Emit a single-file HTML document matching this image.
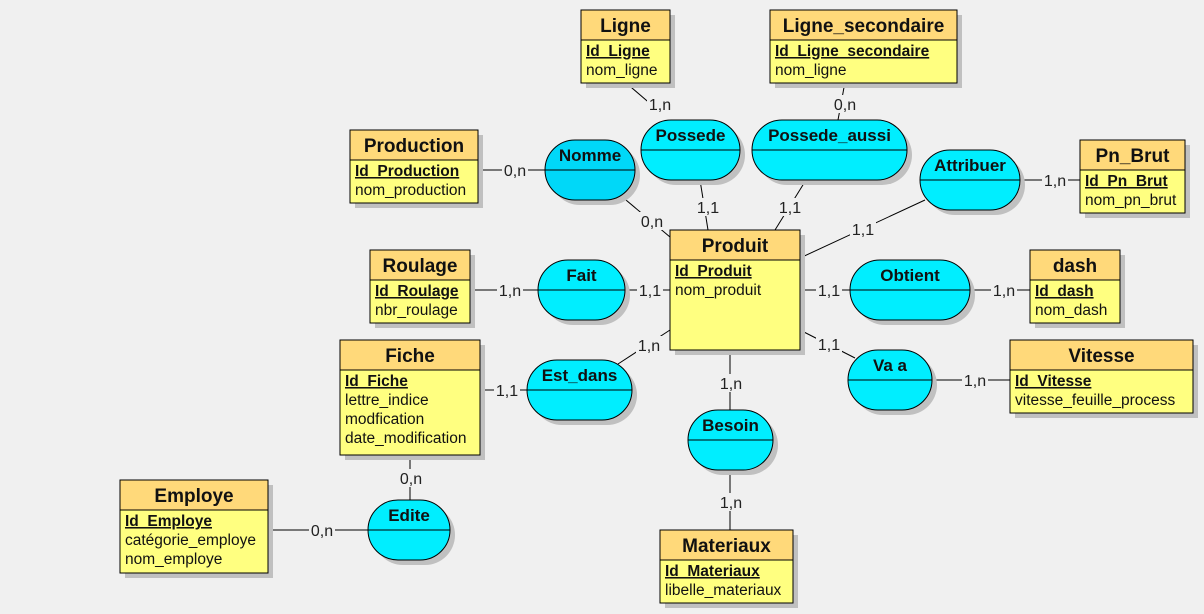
<!DOCTYPE html>
<html><head><meta charset="utf-8"><style>
html,body{margin:0;padding:0;background:#f0f0f0;}
svg{display:block;font-family:"Liberation Sans",sans-serif;}
</style></head><body>
<svg id="d" width="1204" height="614" viewBox="0 0 1204 614">
<rect width="1204" height="614" fill="#f0f0f0"/>
<g id="links"></g><g id="shapes"></g><g id="labels"></g>
</svg>
<script>
const NS='http://www.w3.org/2000/svg';
const entityNames=['Ligne','Ligne_secondaire','Production','Pn_Brut','Produit','Roulage','dash','Fiche','Vitesse','Employe','Materiaux'];
const entityBoxes=[[581,10,89,73],[770,10,187,73],[350,130,128,73],[1080,140,105,73],[670,230,130,120],[370,250,100,73],[1030,250,90,73],[340,340,140,115],[1010,340,183,73],[120,480,148,93],[660,530,133,73]];
const entityAttrs=[['Id_Ligne','nom_ligne'],['Id_Ligne_secondaire','nom_ligne'],['Id_Production','nom_production'],['Id_Pn_Brut','nom_pn_brut'],['Id_Produit','nom_produit'],['Id_Roulage','nbr_roulage'],['Id_dash','nom_dash'],['Id_Fiche','lettre_indice','modfication','date_modification'],['Id_Vitesse','vitesse_feuille_process'],['Id_Employe','catégorie_employe','nom_employe'],['Id_Materiaux','libelle_materiaux']];
const assocNames=['Nomme','Possede','Possede_aussi','Attribuer','Fait','Obtient','Est_dans','Va a','Besoin','Edite'];
const assocBoxes=[[545,140,90,60],[641,120,99,60],[752,120,155,60],[920,150,100,60],[538,260,87,60],[850,260,120,60],[527,360,105,60],[848,350,84,60],[688,410,85,60],[368,500,82,60]];
const links=[[625,82,660,112,'1,n',660,104],[700,180,708,230,'1,1',708,207],[845,82,838,120,'0,n',845,104],[806,180,775,230,'1,1',790,207],
[478,170,545,170,'0,n',515,170],[620,195,670,237,'0,n',652,221],[925,200,800,258,'1,1',863,229],[1020,180,1080,180,'1,n',1055,180],
[470,290,538,290,'1,n',510,290],[625,290,670,290,'1,1',650,290],[800,290,850,290,'1,1',829,290],[970,290,1030,290,'1,n',1004,290],
[670,330,618,364,'1,n',649,345],[480,390,527,390,'1,1',507,390],[800,330,855,358,'1,1',829,344],[932,380,1010,380,'1,n',975,380],
[730,350,730,410,'1,n',731,383],[730,470,730,530,'1,n',731,502],[410,455,410,500,'0,n',411,478],[268,530,368,530,'0,n',322,530]];
function el(t,a,p,txt){const e=document.createElementNS(NS,t);for(const k in a)e.setAttribute(k,a[k]);if(txt!==undefined)e.textContent=txt;p.appendChild(e);return e;}
const L=document.getElementById('links'),S=document.getElementById('shapes'),B=document.getElementById('labels');
links.forEach((l,i)=>{
 const ln=el('line',{x1:l[0],y1:l[1],x2:l[2],y2:l[3],stroke:'#000','stroke-width':1},L);
 
 
 const w=l[4].length*8+2;
 el('rect',{x:l[5]-w/2,y:l[6]-9,width:w,height:18,fill:'#f0f0f0'},B);
 const t=el('text',{x:l[5],y:l[6]+6,'font-size':16,'text-anchor':'middle',fill:'#222'},B,l[4]);
 
 
});
entityNames.forEach((n,i)=>{
 const [x,y,w,h]=entityBoxes[i];
 const g=el('g',{},S);
 
 
 el('rect',{x:x+5,y:y+5,width:w,height:h,fill:'#c0c0c0'},g);
 el('rect',{x:x,y:y,width:w,height:h,fill:'#ffff80',stroke:'#000'},g);
 el('rect',{x:x,y:y,width:w,height:30,fill:'#ffd97a',stroke:'#000'},g);
 el('text',{x:x+w/2,y:y+22,'font-size':19,'font-weight':'bold','text-anchor':'middle',fill:'#111'},g,n);
 entityAttrs[i].forEach((a,j)=>{
  el('text',{x:x+5,y:y+46+j*19,'font-size':15.5,fill:'#111','font-weight':j==0?'bold':'normal','text-decoration':j==0?'underline':'none'},g,a);
 });
});
assocNames.forEach((n,i)=>{
 const [x,y,w,h]=assocBoxes[i];
 const g=el('g',{},S);
 
 
 const r=Math.min(30,w/2);
 el('rect',{x:x+5,y:y+5,width:w,height:h,rx:r,ry:30,fill:'#c0c0c0'},g);
 el('rect',{x:x,y:y,width:w,height:h,rx:r,ry:30,fill:i==0?'#00d8f8':'#00eeff',stroke:'#000'},g);
 el('line',{x1:x,y1:y+h/2,x2:x+w,y2:y+h/2,stroke:'#000'},g);
 el('text',{x:x+w/2,y:y+21,'font-size':17,'font-weight':'bold','text-anchor':'middle',fill:'#111'},g,n);
});
</script>
</body></html>
